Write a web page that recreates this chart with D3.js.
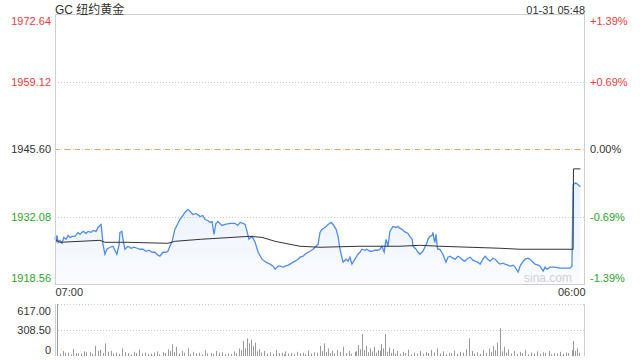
<!DOCTYPE html>
<html><head><meta charset="utf-8">
<script src="https://cdn.jsdelivr.net/npm/d3@7/dist/d3.min.js"></script>
<style>body{margin:0;background:#fff}svg{display:block;font-family:"Liberation Sans",Arial,sans-serif}</style>
</head><body><svg id="c" width="640" height="360"></svg>
<script>
// ---- data ----
const title = "GC 纽约黄金";
const stamp = "01-31 05:48";
const prevClose = 1945.60;
const priceTicks = [1918.56, 1932.08, 1945.60, 1959.12, 1972.64];
const pctTicks = ["-1.39%", "-0.69%", "0.00%", "+0.69%", "+1.39%"];
const timeTicks = ["07:00", "06:00"];
const volTicks = [0, 308.5, 617];
// minutes after 07:00
const priceMinutes = [0,3,5,8,13,18,23,29,34,39,44,52,60,65,73,81,86,94,99,107,112,117,120,122,125,130,135,143,151,156,161,167,169,174,177,182,190,198,206,214,221,229,237,245,253,260,268,273,281,289,294,299,305,312,320,325,333,338,346,352,359,367,378,385,391,398,404,409,414,419,424,435,443,456,469,476,482,490,495,500,505,513,521,529,539,549,560,568,573,581,586,594,599,607,612,620,625,633,638,646,651,659,664,672,677,685,690,695,703,711,719,724,732,737,742,750,758,763,768,773,781,789,794,799,807,812,820,825,833,841,846,851,857,862,867,872,880,888,893,898,904,909,914,919,924,930,932,940,945,950,958,963,969,971,976,982,984,987,989,992,995,997,1002,1010,1018,1023,1029,1036,1042,1049,1054,1062,1067,1075,1081,1088,1094,1101,1107,1114,1120,1127,1133,1140,1146,1153,1159,1166,1172,1179,1185,1193,1198,1206,1211,1219,1224,1232,1237,1245,1250,1258,1263,1271,1276,1281,1289,1302,1315,1328,1341,1346,1349,1356,1368];
const prices = [1927.90,1926.91,1928.30,1926.91,1927.31,1926.71,1927.90,1927.51,1928.30,1927.90,1928.10,1928.10,1928.90,1928.50,1929.10,1928.70,1929.10,1928.90,1929.30,1929.10,1929.89,1930.29,1930.49,1929.10,1926.51,1924.52,1925.52,1925.92,1926.12,1925.32,1924.52,1926.51,1928.90,1929.10,1927.51,1925.52,1926.12,1925.72,1925.92,1925.72,1925.52,1925.52,1925.12,1925.32,1924.92,1924.92,1924.33,1924.13,1924.92,1924.92,1925.12,1926.12,1927.11,1929.50,1930.69,1931.48,1932.28,1932.88,1933.47,1933.07,1932.48,1932.68,1932.08,1932.28,1931.48,1931.28,1930.89,1931.09,1928.50,1930.69,1931.09,1930.29,1930.49,1930.69,1930.69,1930.29,1930.89,1930.69,1930.49,1929.10,1927.51,1928.10,1926.91,1924.92,1923.53,1922.93,1922.54,1922.14,1921.54,1922.14,1922.14,1921.94,1922.14,1922.34,1922.54,1922.93,1923.13,1923.53,1923.93,1924.13,1924.52,1924.92,1925.12,1925.52,1925.92,1926.51,1928.90,1929.50,1929.89,1930.49,1930.89,1930.49,1929.50,1928.10,1925.52,1922.93,1923.53,1923.13,1923.93,1922.54,1923.53,1924.52,1924.92,1925.52,1925.32,1925.52,1925.12,1925.12,1925.32,1925.32,1925.52,1926.12,1924.92,1927.51,1926.12,1929.10,1930.09,1929.89,1930.09,1929.69,1929.50,1929.10,1928.90,1928.70,1928.10,1927.51,1926.12,1925.52,1924.92,1924.52,1925.12,1925.92,1926.91,1927.51,1928.10,1928.30,1928.90,1927.51,1926.91,1928.50,1926.12,1925.52,1925.52,1924.52,1922.93,1923.93,1924.13,1923.73,1923.53,1924.13,1923.93,1923.33,1923.13,1923.73,1923.93,1923.33,1923.13,1922.93,1922.54,1923.53,1924.13,1923.53,1923.13,1923.73,1923.53,1922.93,1922.54,1922.74,1922.54,1922.34,1922.14,1922.34,1921.94,1920.95,1922.14,1923.13,1923.53,1923.73,1923.53,1922.93,1922.54,1922.34,1922.14,1921.14,1921.94,1921.54,1921.94,1921.94,1921.74,1921.74,1921.74,1922.14,1938.44,1938.84,1938.04];
const avgMinutes = [0,13,117,130,190,294,312,378,505,539,573,612,638,690,794,898,950,1002,1159,1211,1349,1350,1368];
const avgPrices = [1927.51,1926.91,1927.31,1926.91,1926.91,1926.71,1927.11,1927.51,1928.10,1927.90,1927.11,1926.51,1926.12,1925.92,1926.12,1926.12,1926.31,1926.12,1925.72,1925.52,1925.52,1941.62,1941.62];
const volMinutes = [5,20,35,48,60,75,90,105,118,130,145,160,175,190,205,220,235,250,265,280,295,305,315,330,345,360,375,390,405,420,435,450,465,480,490,500,505,510,515,520,530,545,560,575,590,600,615,630,645,660,675,690,700,710,720,735,750,765,780,790,800,810,820,830,840,850,860,870,880,890,905,920,935,950,965,980,995,1010,1025,1040,1055,1070,1078,1085,1100,1115,1130,1140,1150,1159,1170,1180,1195,1210,1225,1240,1255,1270,1285,1300,1315,1330,1345,1350,1360,
  12,27,41,54,67,82,97,111,124,137,152,167,182,197,212,227,242,257,272,287,300,310,322,337,352,367,382,397,412,427,442,457,472,485,495,525,537,552,567,582,595,607,622,637,652,667,682,695,705,715,727,742,757,772,785,795,805,815,825,835,845,855,865,875,885,897,912,927,942,957,972,987,1002,1017,1032,1047,1062,1092,1107,1122,1135,1145,1165,1175,1187,1202,1217,1232,1247,1262,1277,1292,1307,1322,1337,1355,1365];
const volumes = [617,60,40,85,30,55,45,120,70,150,60,40,90,35,50,75,40,30,55,45,80,140,110,60,90,50,40,70,35,60,45,30,55,90,180,210,150,190,120,160,80,60,45,70,40,55,35,50,40,65,45,120,150,90,60,70,110,60,50,130,260,120,90,110,70,140,260,100,80,60,50,75,40,60,45,70,90,55,40,65,50,80,210,60,45,70,90,120,160,330,110,80,60,50,70,40,55,45,60,35,50,40,70,180,90,
  25,40,20,35,30,45,25,60,35,50,30,25,45,20,35,30,25,40,20,35,60,45,30,40,25,35,20,30,25,40,20,25,35,70,90,55,40,30,25,35,20,30,25,35,20,30,40,60,45,35,30,50,35,25,55,80,70,45,55,40,60,90,50,35,30,25,35,20,30,25,35,40,30,20,35,25,40,30,25,35,50,70,55,40,30,25,35,20,30,25,35,20,30,25,35,60,40];

// ---- layout ----
const L = 55, R = 585, T = 14, B = 284, VT = 304, VB = 356;
const red = "#f23a3a", green = "#2aa52a", txt = "#333";
const svg = d3.select("#c");

const x = d3.scaleLinear().domain([0, 1380]).range([L, R]);
const y = d3.scaleLinear().domain([priceTicks[0], priceTicks[4]]).range([B, T]);
const yv = d3.scaleLinear().domain([0, 617]).range([VB, VT]);

// gradient
const defs = svg.append("defs");
const grad = defs.append("linearGradient").attr("id", "g").attr("x1", 0).attr("y1", 0).attr("x2", 0).attr("y2", 1);
grad.append("stop").attr("offset", "0%").attr("stop-color", "#5a93ee").attr("stop-opacity", 0.14);
grad.append("stop").attr("offset", "100%").attr("stop-color", "#5a93ee").attr("stop-opacity", 0.03);

// gridlines
[priceTicks[1], priceTicks[3], priceTicks[2]].forEach(v => {
  svg.append("line").attr("x1", L).attr("x2", R).attr("y1", Math.round(y(v)) + 0.5).attr("y2", Math.round(y(v)) + 0.5)
    .attr("stroke", "#c8c8c8").attr("stroke-dasharray", "1,2");
});
svg.append("line").attr("x1", L).attr("x2", R).attr("y1", Math.round(y(prevClose)) + 0.5).attr("y2", Math.round(y(prevClose)) + 0.5)
  .attr("stroke", "#f3a066").attr("stroke-dasharray", "5,5");

const pts = priceMinutes.map((m, i) => [m, prices[i]]);
svg.append("path").datum(pts)
  .attr("d", d3.area().x(d => x(d[0])).y0(B).y1(d => y(d[1])))
  .attr("fill", "url(#g)");
svg.append("path").datum(pts)
  .attr("d", d3.line().x(d => x(d[0])).y(d => y(d[1])))
  .attr("fill", "none").attr("stroke", "#4e8cef").attr("stroke-width", 1.3);
const apts = avgMinutes.map((m, i) => [m, avgPrices[i]]);
svg.append("path").datum(apts)
  .attr("d", d3.line().x(d => x(d[0])).y(d => y(d[1])))
  .attr("fill", "none").attr("stroke", "#333").attr("stroke-width", 1);

// frame
svg.append("rect").attr("x", L + 0.5).attr("y", T + 0.5).attr("width", R - L - 1).attr("height", B - T)
  .attr("fill", "none").attr("stroke", "#cfcfcf");

// watermark
svg.append("text").attr("x", R - 13).attr("y", B - 2).attr("text-anchor", "end")
  .attr("font-size", 12).attr("fill", "#d0d0d0").text("sina.com");

// axes
const colorOf = v => v > prevClose + 0.001 ? red : v < prevClose - 0.001 ? green : txt;
const shift = v => v === priceTicks[4] ? "0.95em" : v === priceTicks[0] ? "-0.25em" : "0.35em";
const gl = svg.append("g").attr("transform", `translate(${L},0)`)
  .call(d3.axisLeft(y).tickValues(priceTicks).tickSize(0).tickPadding(4).tickFormat(d3.format(".2f")));
gl.select(".domain").remove();
gl.selectAll("text").attr("fill", colorOf).attr("dy", shift).attr("font-size", 11).attr("font-family", "Liberation Sans, Arial, sans-serif");
const gr = svg.append("g").attr("transform", `translate(${R},0)`)
  .call(d3.axisRight(y).tickValues(priceTicks).tickSize(0).tickPadding(5).tickFormat((d, i) => pctTicks[i]));
gr.select(".domain").remove();
gr.selectAll("text").attr("fill", colorOf).attr("dy", shift).attr("font-size", 11).attr("font-family", "Liberation Sans, Arial, sans-serif");

// time axis
const gx = svg.append("g").attr("transform", `translate(0,${B})`)
  .call(d3.axisBottom(x).tickValues([0, 1380]).tickSize(0).tickPadding(4).tickFormat((d, i) => timeTicks[i]));
gx.select(".domain").remove();
gx.selectAll("text").attr("fill", txt).attr("font-size", 11).attr("font-family", "Liberation Sans, Arial, sans-serif")
  .attr("text-anchor", (d, i) => i === 0 ? "start" : "end");

// volume panel
[617, 308.5].forEach(v => {
  svg.append("line").attr("x1", L).attr("x2", R).attr("y1", Math.round(yv(v)) + 0.5).attr("y2", Math.round(yv(v)) + 0.5)
    .attr("stroke", "#c8c8c8").attr("stroke-dasharray", "1,2");
});
svg.append("line").attr("x1", L + 0.5).attr("x2", L + 0.5).attr("y1", VT).attr("y2", VB).attr("stroke", "#cfcfcf");
svg.append("line").attr("x1", R - 0.5).attr("x2", R - 0.5).attr("y1", VT).attr("y2", VB).attr("stroke", "#cfcfcf");
svg.append("g").selectAll("line").data(volMinutes.map((m, i) => [m, volumes[i]])).join("line")
  .attr("x1", d => Math.round(x(d[0])) + 0.5).attr("x2", d => Math.round(x(d[0])) + 0.5)
  .attr("y1", VB).attr("y2", d => yv(d[1])).attr("stroke", "#9a9a9a").attr("stroke-width", 1);
const gv = svg.append("g").attr("transform", `translate(${L},0)`)
  .call(d3.axisLeft(yv).tickValues(volTicks).tickSize(0).tickPadding(4).tickFormat(d => d === 0 ? "0" : d3.format(".2f")(d)));
gv.select(".domain").remove();
gv.selectAll("text").attr("fill", txt).attr("font-size", 11).attr("font-family", "Liberation Sans, Arial, sans-serif")
  .attr("dy", d => d === 617 ? "0.95em" : d === 0 ? "-0.25em" : "0.35em");

// header
svg.append("text").attr("x", L).attr("y", 14).attr("font-size", 12).attr("fill", txt)
  .attr("font-family", "Liberation Sans, 'Noto Sans CJK SC', sans-serif").text(title);
svg.append("text").attr("x", R).attr("y", 14).attr("text-anchor", "end").attr("font-size", 11).attr("fill", txt).text(stamp);
</script></body></html>
